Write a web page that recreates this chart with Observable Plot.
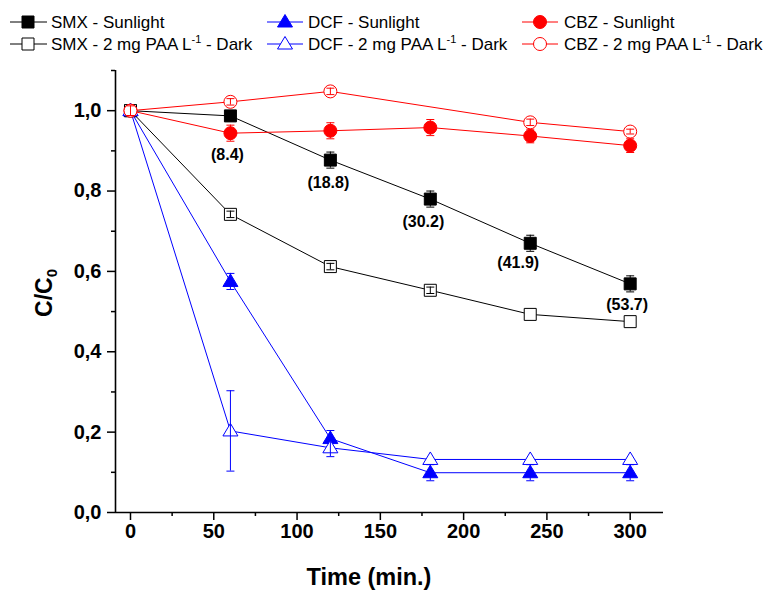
<!DOCTYPE html>
<html><head><meta charset="utf-8">
<script src="https://cdn.jsdelivr.net/npm/d3@7"></script>
<script src="https://cdn.jsdelivr.net/npm/@observablehq/plot@0.6"></script>
<style>
body{margin:0;background:#fff;}
svg{display:block}
#chart [aria-label$="tick label"]{font-weight:bold;font-size:20px;}
#chart [aria-label$="-axis tick"]{stroke-width:1.5px;}
</style>
</head><body>
<div id="legend"></div>
<div id="chart"></div>
<script>
// ---- data ----
const times = [0, 60, 120, 180, 240, 300];
const smxSun = [1.0, 0.987, 0.877, 0.780, 0.670, 0.569];
const smxSunErr = [0.012, 0.012, 0.02, 0.02, 0.02, 0.02];
const smxDark = [1.0, 0.742, 0.612, 0.553, 0.493, 0.475];
const smxDarkErr = [0.012, 0.008, 0.008, 0.008, 0, 0];
const dcfSun = [1.0, 0.575, 0.184, 0.099, 0.099, 0.099];
const dcfSunErr = [0.012, 0.02, 0.02, 0.02, 0.02, 0.02];
const dcfDark = [1.0, 0.203, 0.161, 0.132, 0.132, 0.132];
const dcfDarkErr = [0.012, 0.1, 0.022, 0, 0, 0];
const cbzSun = [1.0, 0.944, 0.950, 0.958, 0.937, 0.913];
const cbzSunErr = [0.012, 0.02, 0.02, 0.02, 0.017, 0.017];
const cbzDarkTimes = [0, 60, 120, 240, 300];
const cbzDark = [1.0, 1.022, 1.048, 0.971, 0.948];
const cbzDarkErr = [0.012, 0.008, 0.008, 0.008, 0.006];
const removalTimes = [60, 120, 180, 240, 300];
const removalPct = [8.4, 18.8, 30.2, 41.9, 53.7];
const xMajor = [0, 50, 100, 150, 200, 250, 300];
const xMinor = [25, 75, 125, 175, 225, 275];
const yMajor = [0, 0.2, 0.4, 0.6, 0.8, 1.0];
const yMinor = [0.1, 0.3, 0.5, 0.7, 0.9, 1.1];
const seriesNames = ["SMX - Sunlight", "SMX - 2 mg PAA L^-1 - Dark", "DCF - Sunlight", "DCF - 2 mg PAA L^-1 - Dark", "CBZ - Sunlight", "CBZ - 2 mg PAA L^-1 - Dark"];

// ---- symbols (styling) ----
const sq = {draw(c){ c.moveTo(-6,-6); c.lineTo(6,-6); c.lineTo(6,6); c.lineTo(-6,6); c.closePath(); }};
const tri = {draw(c){ c.moveTo(0,-7.5); c.lineTo(7.5,5); c.lineTo(-7.5,5); c.closePath(); }};
const circ = {draw(c){ c.moveTo(6.5,0); c.arc(0,0,6.5,0,2*Math.PI); c.closePath(); }};
const cap = {draw(c){ c.moveTo(-4,0); c.lineTo(4,0); }};

const series = [
  {name: seriesNames[0], t: times, v: smxSun, e: smxSunErr, color: "#000000", filled: true, sym: sq},
  {name: seriesNames[1], t: times, v: smxDark, e: smxDarkErr, color: "#000000", filled: false, sym: sq},
  {name: seriesNames[2], t: times, v: dcfSun, e: dcfSunErr, color: "#0000ff", filled: true, sym: tri},
  {name: seriesNames[3], t: times, v: dcfDark, e: dcfDarkErr, color: "#0000ff", filled: false, sym: tri},
  {name: seriesNames[4], t: times, v: cbzSun, e: cbzSunErr, color: "#ff0000", filled: true, sym: circ},
  {name: seriesNames[5], t: cbzDarkTimes, v: cbzDark, e: cbzDarkErr, color: "#ff0000", filled: false, sym: circ}
];

const marks = [];
for (const s of series) {
  const rows = s.t.map((t, i) => ({t, v: s.v[i], e: s.e[i]}));
  const er = rows.filter(d => d.e > 0);
  marks.push(Plot.line(rows, {x: "t", y: "v", stroke: s.color, strokeWidth: 1}));
  marks.push(Plot.dot(rows, {x: "t", y: "v", symbol: s.sym, r: 6, stroke: s.color, strokeWidth: 1, fill: s.filled ? s.color : "#ffffff"}));
  marks.push(Plot.ruleX(er, {x: "t", y1: d => d.v - d.e, y2: d => d.v + d.e, stroke: s.color, strokeWidth: 1}));
  marks.push(Plot.dot(er, {x: "t", y: d => d.v + d.e, symbol: cap, r: 3, stroke: s.color, strokeWidth: 1, fill: "none"}));
  marks.push(Plot.dot(er, {x: "t", y: d => d.v - d.e, symbol: cap, r: 3, stroke: s.color, strokeWidth: 1, fill: "none"}));
}

// removal % labels under SMX sunlight points
const labelNudge = [[-3, 39], [-2, 23], [-7, 23], [-12, 20], [-3, 21]];
removalTimes.forEach((t, i) => {
  const v = smxSun[times.indexOf(t)];
  marks.push(Plot.text([{t, v, p: removalPct[i]}], {
    x: "t", y: "v", text: d => `(${d.p})`, dx: labelNudge[i][0], dy: labelNudge[i][1],
    fontSize: 16, fontWeight: "bold", fill: "#000"
  }));
});

const fmt = d => d.toFixed(1).replace(".", ",");
marks.push(
  Plot.ruleY([0], {stroke: "#000", strokeWidth: 1.6}),
  Plot.ruleX([-9], {stroke: "#000", strokeWidth: 1.6}),
  Plot.axisX(xMajor, {tickSize: 8, tickPadding: 3, tickFormat: d => String(d), fontSize: 20, label: null}),
  Plot.axisX(xMinor, {tickSize: 4, tickFormat: () => "", label: null}),
  Plot.axisY(yMajor, {tickSize: 8, tickPadding: 6, tickFormat: fmt, fontSize: 20, label: null}),
  Plot.axisY(yMinor, {tickSize: 4, tickFormat: () => "", label: null})
);

const chart = Plot.plot({
  width: 765, height: 539,
  marginLeft: 115, marginRight: 102, marginTop: 10, marginBottom: 87,
  x: {domain: [-9, 320]},
  y: {domain: [0, 1.1]},
  style: {fontFamily: "'Liberation Sans', Arial, sans-serif", background: "#ffffff", color: "#000", overflow: "visible"},
  marks
});
document.getElementById("chart").appendChild(chart);

// axis titles
const svg = d3.select(chart);
svg.append("text").attr("x", 369).attr("y", 525).attr("text-anchor", "middle")
  .attr("font-family", "'Liberation Sans', Arial, sans-serif").attr("font-weight", "bold").attr("font-size", 23.5)
  .attr("fill", "#000").text("Time (min.)");
const yl = svg.append("text").attr("transform", "translate(52,233) rotate(-90)").attr("text-anchor", "middle")
  .attr("font-family", "'Liberation Sans', Arial, sans-serif").attr("font-weight", "bold").attr("font-size", 23).attr("fill", "#000");
yl.append("tspan").text("C/C");
yl.append("tspan").attr("font-size", 15).attr("dy", 5).text("0");

// legend
const leg = d3.select("#legend").append("svg").attr("width", 765).attr("height", 60);
const cols = [{x0: 10, x1: 47, m: 28, tx: 51}, {x0: 267, x1: 303, m: 285, tx: 308}, {x0: 522, x1: 558, m: 540, tx: 564}];
const rowsY = [22, 44];
series.forEach((s, i) => {
  const c = cols[Math.floor(i / 2)], y = rowsY[i % 2];
  leg.append("line").attr("x1", c.x0).attr("x2", c.x1).attr("y1", y).attr("y2", y).attr("stroke", s.color).attr("stroke-width", 1);
  const p = d3.path(); s.sym.draw(p);
  leg.append("path").attr("d", p.toString()).attr("transform", `translate(${c.m},${y})`)
    .attr("fill", s.filled ? s.color : "#fff").attr("stroke", s.color).attr("stroke-width", 1);
  const txt = leg.append("text").attr("x", c.tx).attr("y", y + 6)
    .attr("font-family", "'Liberation Sans', Arial, sans-serif").attr("font-size", 17).attr("fill", "#000");
  const parts = s.name.split("^-1");
  txt.append("tspan").text(parts[0]);
  if (parts.length > 1) {
    txt.append("tspan").attr("font-size", 11).attr("dy", -7).text("-1");
    txt.append("tspan").attr("dy", 7).text(parts[1]);
  }
});
</script>
</body></html>
